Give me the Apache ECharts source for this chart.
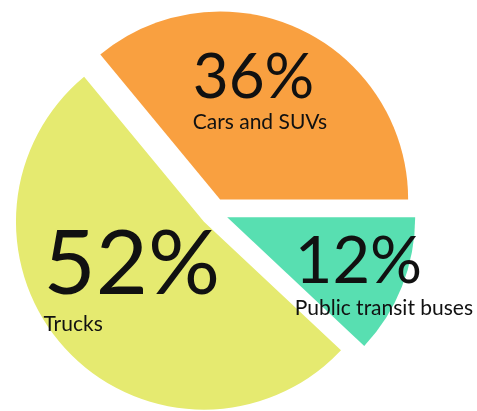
<!DOCTYPE html>
<html>
<head>
<meta charset="utf-8">
<script src="https://cdn.jsdelivr.net/npm/echarts@6/dist/echarts.min.js"></script>
<style>
  html, body { margin: 0; padding: 0; background: #fff; }
  #container { width: 477px; height: 411px; }
</style>
</head>
<body>
<div id="container"></div>
<script>
// 数据
var categories = ['Cars and SUVs', 'Trucks', 'Public transit buses'];
var shares = [36, 52, 12];
var colors = ['#F9A040', '#E5EA70', '#58DFB1'];

var dom = document.getElementById('container');
var myChart = echarts.init(dom);

// 每块标签的样式和微调
var pctSize = [62, 90, 65];
var nameSize = 21;
var labelShift = [[-1.5, -20], [-1.5, -9], [66.5, 23]];

var pieData = categories.map(function (name, i) {
    return {
        name: name,
        value: shares[i],
        selected: true,
        itemStyle: { color: colors[i] },
        label: {
            rich: {
                pct: { fontSize: pctSize[i], lineHeight: pctSize[i], align: 'left', color: '#111', fontFamily: 'Lato' },
                nm: { fontSize: nameSize, lineHeight: 28, align: 'left', color: '#111', fontFamily: 'Lato' }
            }
        }
    };
});

var option = {
    animation: false,
    series: [{
        type: 'pie',
        center: ['44.9%', '51.6%'],
        radius: [0, 188],
        startAngle: 0,
        clockwise: false,
        selectedMode: 'multiple',
        selectedOffset: 14,
        emphasis: { disabled: true },
        label: {
            show: true,
            position: 'inside',
            formatter: function (p) {
                return '{pct|' + p.value + '%}\n{nm|' + p.name + '}';
            }
        },
        labelLayout: function (params) {
            var s = labelShift[params.dataIndex];
            return { dx: s[0], dy: s[1] };
        },
        labelLine: { show: false },
        data: pieData
    }]
};

myChart.setOption(option, true);
window.onresize = myChart.resize;
</script>
</body>
</html>
